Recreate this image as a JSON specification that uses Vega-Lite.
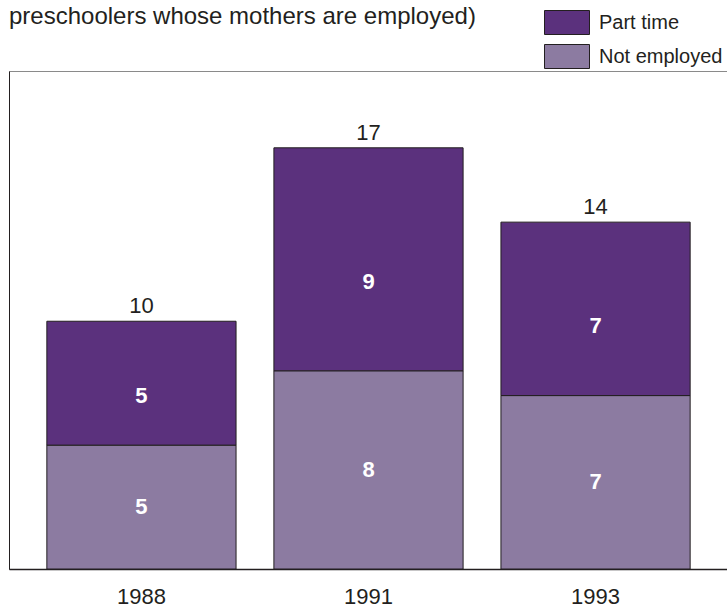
{
  "$schema": "https://vega.github.io/schema/vega-lite/v6.json",
  "width": 719,
  "height": 498,
  "autosize": {"type": "none"},
  "padding": {"left": 9, "top": 71, "right": 0, "bottom": 41},
  "background": "white",
  "title": {
    "text": "preschoolers whose mothers are employed)",
    "anchor": "start",
    "frame": "group",
    "baseline": "alphabetic",
    "offset": -38,
    "fontSize": 24,
    "font": "Liberation Sans",
    "fontWeight": "normal",
    "color": "#231f20"
  },
  "config": {
    "view": {"stroke": "#8a8a8a", "strokeWidth": 1},
    "font": "Liberation Sans"
  },
  "data": {
    "values": [
      {"year": "1988", "status": "Not employed", "value": 5, "rank": 1},
      {"year": "1988", "status": "Part time", "value": 5, "rank": 2},
      {"year": "1991", "status": "Not employed", "value": 8, "rank": 1},
      {"year": "1991", "status": "Part time", "value": 9, "rank": 2},
      {"year": "1993", "status": "Not employed", "value": 7, "rank": 1},
      {"year": "1993", "status": "Part time", "value": 7, "rank": 2}
    ]
  },
  "encoding": {
    "x": {
      "field": "year",
      "type": "nominal",
      "scale": {"paddingInner": 0.1667, "paddingOuter": 0.1667},
      "axis": {
        "title": null,
        "labelAngle": 0,
        "ticks": false,
        "grid": false,
        "domain": true,
        "domainColor": "#231f20",
        "domainWidth": 1.5,
        "labelFontSize": 22,
        "labelFont": "Liberation Sans",
        "labelColor": "#231f20",
        "labelBaseline": "top",
        "labelPadding": 17
      }
    }
  },
  "layer": [
    {
      "transform": [
        {"stack": "value", "groupby": ["year"], "sort": [{"field": "rank", "order": "ascending"}], "as": ["v0", "v1"]}
      ],
      "mark": {"type": "bar", "stroke": "#231f20", "strokeWidth": 1},
      "encoding": {
        "y": {
          "field": "v0",
          "type": "quantitative",
          "scale": {"domain": [0, 20.1], "nice": false},
          "axis": {"title": null, "labels": false, "ticks": false, "grid": false, "domain": true, "domainColor": "#231f20"}
        },
        "y2": {"field": "v1"},
        "color": {
          "field": "status",
          "type": "nominal",
          "scale": {"domain": ["Part time", "Not employed"], "range": ["#5b317d", "#8c7ba1"]},
          "legend": {
            "title": null,
            "orient": "none",
            "legendX": 545.5,
            "legendY": -61,
            "padding": 0,
            "symbolType": "M-1.875,-1H1.875V1H-1.875Z",
            "symbolSize": 576,
            "symbolStrokeColor": "#231f20",
            "symbolStrokeWidth": 1,
            "symbolOpacity": 1,
            "rowPadding": 5,
            "labelOffset": 19.5,
            "labelFontSize": 20,
            "labelFont": "Liberation Sans",
            "labelColor": "#231f20",
            "labelBaseline": "middle",
            "labelLimit": 300
          }
        }
      }
    },
    {
      "transform": [
        {"stack": "value", "groupby": ["year"], "sort": [{"field": "rank", "order": "ascending"}], "as": ["v0", "v1"]},
        {"calculate": "datum.rank == 2 ? datum.v0 + 0.4 * datum.value : (datum.v0 + datum.v1) / 2", "as": "mid"}
      ],
      "mark": {"type": "text", "color": "white", "fontWeight": "bold", "fontSize": 22, "baseline": "middle", "font": "Liberation Sans"},
      "encoding": {
        "y": {
          "field": "mid",
          "type": "quantitative",
          "scale": {"domain": [0, 20.1], "nice": false},
          "axis": {"title": null, "labels": false, "ticks": false, "grid": false, "domain": true, "domainColor": "#231f20"}
        },
        "text": {"field": "value", "type": "quantitative"}
      }
    },
    {
      "transform": [
        {"aggregate": [{"op": "sum", "field": "value", "as": "total"}], "groupby": ["year"]}
      ],
      "mark": {"type": "text", "color": "#231f20", "fontSize": 22, "baseline": "alphabetic", "dy": -8, "font": "Liberation Sans"},
      "encoding": {
        "y": {
          "field": "total",
          "type": "quantitative",
          "scale": {"domain": [0, 20.1], "nice": false},
          "axis": {"title": null, "labels": false, "ticks": false, "grid": false, "domain": true, "domainColor": "#231f20"}
        },
        "text": {"field": "total", "type": "quantitative"}
      }
    }
  ]
}
